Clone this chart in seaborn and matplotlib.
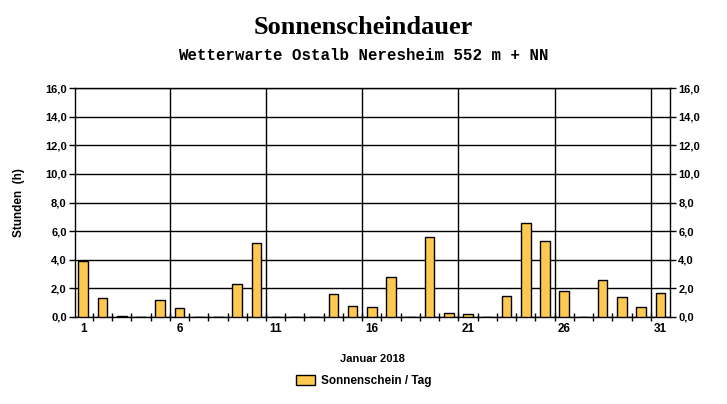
import matplotlib
matplotlib.use("Agg")
import matplotlib.pyplot as plt
import seaborn as sns
import pandas as pd
from matplotlib.patches import Patch

# sunshine hours per day, January 2018
days = list(range(1, 32))
sunshine = [3.9, 1.3, 0.1, 0.0, 1.2, 0.6, 0.0, 0.0, 2.3, 5.2,
            0.0, 0.0, 0.0, 1.6, 0.8, 0.7, 2.8, 0.0, 5.6, 0.3,
            0.2, 0.0, 1.5, 6.6, 5.3, 1.8, 0.0, 2.6, 1.4, 0.7,
            1.7]
x_labels = [1, 6, 11, 16, 21, 26, 31]
y_ticks = [0, 2, 4, 6, 8, 10, 12, 14, 16]

df = pd.DataFrame({"Tag": days, "Stunden": sunshine})

sns.set_style("white")
plt.rcParams["font.family"] = ["Liberation Sans", "DejaVu Sans"]
plt.rcParams["text.color"] = "black"
plt.rcParams["axes.labelcolor"] = "black"
plt.rcParams["xtick.color"] = "black"
plt.rcParams["ytick.color"] = "black"

bar_color = "#FFC84E"

fig = plt.figure(figsize=(7.27, 4.04), dpi=100)
ax = fig.add_axes([75 / 727, 87 / 404, 595 / 727, 229 / 404])

sns.barplot(data=df, x="Tag", y="Stunden", native_scale=True, width=0.5,
            color=bar_color, saturation=1, edgecolor="black", linewidth=1,
            ax=ax, zorder=3)

ax.set_xlim(0.57, 31.5)
ax.set_ylim(0, 16)

# grid
ax.set_yticks(y_ticks)
ax.yaxis.grid(True, color="black", linewidth=1)
for v in [5.5, 10.5, 15.5, 20.5, 25.5, 30.5]:
    ax.axvline(v, color="black", linewidth=1, zorder=1)
ax.set_axisbelow(True)

for s in ax.spines.values():
    s.set_color("black")
    s.set_linewidth(1)

ylabels = [f"{v:.1f}".replace(".", ",") for v in y_ticks]
ax.set_yticklabels(ylabels, fontsize=8, fontweight="bold")
ax.tick_params(axis="y", which="major", length=4, width=1, color="black",
               left=True, right=True, labelleft=True, labelright=True, pad=2)

ax.set_xticks(x_labels)
ax.set_xticklabels([str(d) for d in x_labels], fontsize=8.5, fontweight="bold")
ax.set_xticks([d + 0.5 for d in days[:-1]], minor=True)
ax.tick_params(axis="x", which="major", length=0, pad=4)
ax.tick_params(axis="x", which="minor", length=6, width=1, direction="inout",
               color="black", bottom=True)

ax.set_xlabel("Januar 2018", fontsize=8, fontweight="bold", labelpad=14)
ax.set_ylabel("Stunden  (h)", fontsize=8.5, fontweight="bold", labelpad=14)

fig.text(0.5, 0.932, "Sonnenscheindauer", ha="center", va="center",
         fontsize=19, fontweight="bold", family=["Liberation Serif"])
fig.text(0.5, 0.862, "Wetterwarte Ostalb Neresheim 552 m + NN", ha="center",
         va="center", fontsize=11.3, fontweight="bold",
         family=["Liberation Mono"])

handles = [Patch(facecolor=bar_color, edgecolor="black", linewidth=1,
                 label="Sonnenschein / Tag")]
fig.legend(handles=handles, loc="center", bbox_to_anchor=(0.5, 0.057),
           frameon=False, prop={"weight": "bold", "size": 8.5},
           handlelength=1.6, handleheight=1.0, handletextpad=0.5)

fig.savefig("out.png", dpi=100)
